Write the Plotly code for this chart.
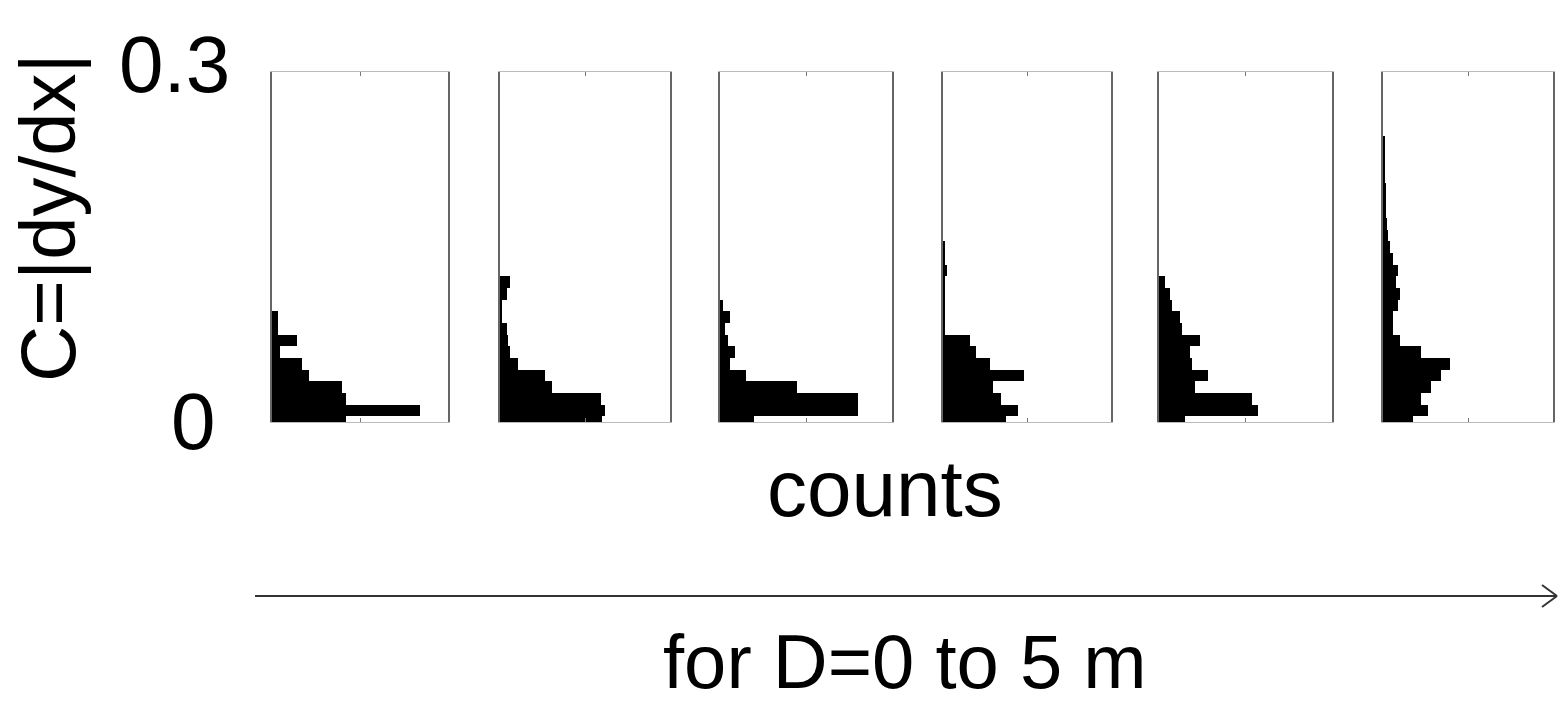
import plotly.graph_objects as go

# Histogram of C = |dy/dx| for six depth intervals (D = 0 to 5 m)
bin_centers = [round(0.01 * k, 2) for k in range(25)]

counts_1 = [42, 84, 42, 40, 21, 17, 4.5, 14, 3.4, 3.2]
counts_2 = [59.8, 61.8, 59.4, 30.4, 26.5, 10.6, 5.9, 4.7, 3.9, 1.0, 0.6, 3.9, 5.9]
counts_3 = [20, 80, 80, 45, 15.4, 5.8, 8.7, 4.6, 2.9, 5.8, 1.7]
counts_4 = [37.5, 44.6, 34.5, 29.8, 48.2, 27.8, 19.6, 15.9, 1.2, 0.9, 1.2, 0.6, 1.2, 2.4, 1.2, 0.9]
counts_5 = [15, 57.2, 53.6, 20.8, 28.3, 18.9, 17.9, 23.7, 13.1, 12.1, 7.3, 6.4, 3.5]
counts_6 = [17.6, 26.5, 22.4, 28.2, 34.1, 39.2, 22.4, 9.8, 5.9, 5.9, 8.8, 9.8, 7.6,
            8.8, 5.9, 3.9, 2.9, 2.4, 1.8, 1.8, 1.8, 1.2, 0.9, 0.9, 1.2]

all_counts = [counts_1, counts_2, counts_3, counts_4, counts_5, counts_6]

W, H = 1560, 705
panel_px = [(272, 448), (500, 670), (720, 892), (943, 1111), (1159, 1332), (1383, 1553)]
y_top_px, y_bot_px = 72, 422

fig = go.Figure()
layout = {}
for i, (counts, (x0, x1)) in enumerate(zip(all_counts, panel_px), start=1):
    xa = "x" if i == 1 else f"x{i}"
    ya = "y" if i == 1 else f"y{i}"
    fig.add_trace(go.Bar(
        x=counts, y=bin_centers[:len(counts)], orientation="h",
        width=0.01, marker=dict(color="black", line=dict(width=0)),
        xaxis=xa, yaxis=ya, showlegend=False, hoverinfo="x+y",
    ))
    key = "" if i == 1 else str(i)
    layout[f"xaxis{key}"] = dict(
        domain=[x0 / W, x1 / W], range=[0, 100], anchor=ya,
        showgrid=False, zeroline=False, showticklabels=False,
        tickvals=[0, 50, 100], ticks="inside", ticklen=4, tickcolor="#777",
        showline=True, linecolor="#bbbbbb", linewidth=1, mirror="ticks",
    )
    layout[f"yaxis{key}"] = dict(
        domain=[1 - y_bot_px / H, 1 - y_top_px / H], range=[0, 0.3], anchor=xa,
        showgrid=False, zeroline=False, showticklabels=False, ticks="",
        showline=True, linecolor="#666666", linewidth=2, mirror=True,
    )

font = "Liberation Sans, Arial, sans-serif"
annotations = [
    dict(text="0.3", x=232 / W, y=1 - 64 / H, xanchor="right", yanchor="middle",
         font=dict(size=80, family=font, color="black")),
    dict(text="0", x=218 / W, y=1 - 421 / H, xanchor="right", yanchor="middle",
         font=dict(size=80, family=font, color="black")),
    dict(text="C=|dy/dx|", x=48 / W, y=1 - 218 / H, textangle=-90,
         xanchor="center", yanchor="middle",
         font=dict(size=78, family=font, color="black")),
    dict(text="counts", x=885 / W, y=1 - 488 / H, xanchor="center", yanchor="middle",
         font=dict(size=80, family=font, color="black")),
    dict(text="for D=0 to 5 m", x=905 / W, y=1 - 661 / H, xanchor="center", yanchor="middle",
         font=dict(size=76, family=font, color="black")),
]
for a in annotations:
    a.update(xref="paper", yref="paper", showarrow=False)

# Long arrow beneath the panels
ay = 1 - 596 / H
shapes = [
    dict(type="line", xref="paper", yref="paper", x0=255 / W, x1=1556 / W, y0=ay, y1=ay,
         line=dict(color="#333333", width=2)),
    dict(type="line", xref="paper", yref="paper", x0=1542 / W, x1=1557 / W,
         y0=1 - 585 / H, y1=ay, line=dict(color="#333333", width=2)),
    dict(type="line", xref="paper", yref="paper", x0=1542 / W, x1=1557 / W,
         y0=1 - 607 / H, y1=ay, line=dict(color="#333333", width=2)),
]

fig.update_layout(
    width=W, height=H, margin=dict(l=0, r=0, t=0, b=0),
    paper_bgcolor="white", plot_bgcolor="white",
    bargap=0, annotations=annotations, shapes=shapes, **layout,
)

fig.write_html("out.html")
